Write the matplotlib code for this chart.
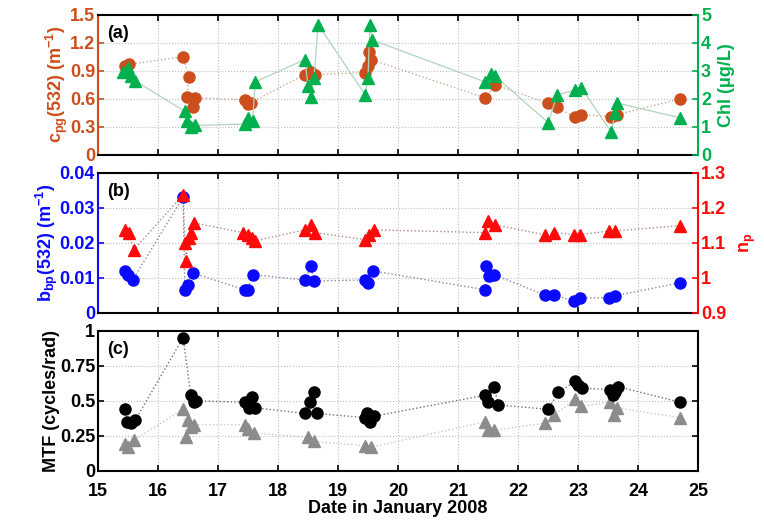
import numpy as np
import matplotlib
matplotlib.use("Agg")
import matplotlib.pyplot as plt

plt.rcParams['font.family'] = ['Liberation Sans', 'DejaVu Sans']
plt.rcParams['font.weight'] = 'bold'
plt.rcParams['axes.labelweight'] = 'bold'
plt.rcParams['font.size'] = 13
plt.rcParams['mathtext.fontset'] = 'custom'
plt.rcParams['mathtext.rm'] = 'Liberation Sans:bold'
plt.rcParams['mathtext.bf'] = 'Liberation Sans:bold'
plt.rcParams['mathtext.it'] = 'Liberation Sans:bold'
plt.rcParams['mathtext.default'] = 'bf'

# ---- panel (a) ----
cpg_day = [15.45, 15.52, 16.42, 16.52, 16.48, 16.58, 16.62, 17.45, 17.5, 17.55,
           18.45, 18.55, 18.62, 19.45, 19.5, 19.52, 19.55, 21.45, 21.62, 22.5,
           22.65, 22.95, 23.05, 23.55, 23.65, 24.7]
cpg = [0.95, 0.97, 1.05, 0.83, 0.62, 0.51, 0.61, 0.59, 0.54, 0.56,
       0.86, 0.89, 0.86, 0.88, 0.95, 1.10, 1.02, 0.61, 0.75, 0.55,
       0.51, 0.40, 0.43, 0.41, 0.43, 0.60]

chl_day = [15.42, 15.5, 15.55, 15.62, 16.45, 16.48, 16.55, 16.62, 17.45, 17.5,
           17.58, 17.62, 18.45, 18.5, 18.55, 18.6, 18.67, 19.45, 19.5, 19.53,
           19.57, 21.45, 21.55, 21.62, 22.5, 22.65, 22.95, 23.05, 23.55, 23.62,
           23.65, 24.7]
chl = [2.95, 3.1, 2.8, 2.65, 1.55, 1.2, 1.0, 1.05, 1.1, 1.3,
       1.2, 2.6, 3.4, 2.45, 2.05, 2.75, 4.65, 2.15, 2.75, 4.65,
       4.1, 2.6, 2.9, 2.8, 1.15, 2.15, 2.3, 2.4, 0.82, 1.5,
       1.85, 1.32]

# ---- panel (b) ----
bbp_day = [15.45, 15.5, 15.58, 16.42, 16.45, 16.5, 16.58, 17.45, 17.5, 17.58,
           18.45, 18.55, 18.6, 19.45, 19.5, 19.58, 21.45, 21.47, 21.52, 21.6,
           22.45, 22.6, 22.93, 23.03, 23.52, 23.62, 24.7]
bbp = [0.0120, 0.0109, 0.0094, 0.033, 0.0066, 0.0080, 0.0114, 0.0066, 0.0066, 0.0109,
       0.0094, 0.0134, 0.0091, 0.0094, 0.0086, 0.0120, 0.0066, 0.0134, 0.0106, 0.0109,
       0.0051, 0.0051, 0.0034, 0.0043, 0.0043, 0.0049, 0.0086]

np_day = [15.45, 15.52, 15.6, 16.42, 16.45, 16.47, 16.52, 16.55, 16.6, 17.42,
          17.5, 17.57, 17.62, 18.45, 18.55, 18.62, 19.45, 19.52, 19.6, 21.45,
          21.5, 21.62, 22.45, 22.6, 22.93, 23.03, 23.52, 23.62, 24.7]
n_p = [1.137, 1.129, 1.080, 1.237, 1.100, 1.049, 1.114, 1.129, 1.157, 1.129,
       1.123, 1.114, 1.106, 1.137, 1.151, 1.129, 1.109, 1.123, 1.137, 1.129,
       1.163, 1.151, 1.123, 1.129, 1.123, 1.123, 1.134, 1.134, 1.149]

# ---- panel (c) ----
mtf1_day = [15.45, 15.48, 15.55, 15.62, 16.42, 16.55, 16.6, 16.63, 17.45, 17.52,
            17.57, 17.62, 18.45, 18.53, 18.6, 18.65, 19.45, 19.48, 19.53, 19.6,
            21.45, 21.5, 21.6, 21.67, 22.5, 22.67, 22.95, 23.0, 23.07, 23.53,
            23.58, 23.62, 23.67, 24.7]
mtf1 = [0.44, 0.35, 0.34, 0.36, 0.95, 0.54, 0.49, 0.50, 0.49, 0.45,
        0.53, 0.45, 0.41, 0.49, 0.56, 0.41, 0.38, 0.41, 0.35, 0.39,
        0.54, 0.49, 0.60, 0.47, 0.44, 0.56, 0.64, 0.61, 0.59, 0.58,
        0.54, 0.56, 0.60, 0.49]

mtf2_day = [15.45, 15.5, 15.6, 16.42, 16.47, 16.5, 16.55, 16.6, 17.45, 17.5,
            17.6, 18.5, 18.6, 19.45, 19.55, 21.45, 21.5, 21.6, 22.45, 22.6,
            22.95, 23.05, 23.53, 23.6, 23.65, 24.7]
mtf2 = [0.19, 0.17, 0.22, 0.44, 0.24, 0.36, 0.31, 0.33, 0.33, 0.30,
        0.27, 0.24, 0.21, 0.18, 0.17, 0.35, 0.29, 0.29, 0.34, 0.40,
        0.51, 0.46, 0.49, 0.40, 0.45, 0.38]

c_cpg = '#cc4e1c'
c_chl = '#00b04f'
c_bbp = '#0a0aff'
c_np = '#ff0a0a'

fig = plt.figure(figsize=(7.64, 5.25), dpi=100)
L, W, H = 0.128, 0.786, 0.267
ax_a = fig.add_axes([L, 0.705, W, H])
ax_b = fig.add_axes([L, 0.404, W, H])
ax_c = fig.add_axes([L, 0.103, W, H])


def style(ax, lcol):
    ax.set_xlim(15, 25)
    ax.set_xticks(range(15, 26))
    ax.grid(True, ls=':', color='#bdbdbd', lw=0.8)
    ax.tick_params(direction='in', length=4, width=1.2, top=True)
    ax.tick_params(axis='y', colors=lcol, labelcolor=lcol, pad=2)
    ax.tick_params(axis='x', colors='black', pad=9)
    for s in ['top', 'bottom']:
        ax.spines[s].set_linewidth(1.5)
    ax.spines['left'].set_color(lcol)
    ax.spines['left'].set_linewidth(1.5)


def style_twin(tw, rcol):
    tw.spines['left'].set_visible(False)
    tw.spines['top'].set_visible(False)
    tw.spines['bottom'].set_visible(False)
    tw.spines['right'].set_color(rcol)
    tw.spines['right'].set_linewidth(1.5)
    tw.tick_params(direction='in', length=4, width=1.2, colors=rcol, labelcolor=rcol, pad=2)


# (a)
style(ax_a, c_cpg)
ax_a.spines['right'].set_visible(False)
ax_a.plot(cpg_day, cpg, ':', color='#c8a898', lw=1)
ax_a.plot(cpg_day, cpg, 'o', color=c_cpg, ms=8, mec=c_cpg)
ax_a.set_ylim(0, 1.5)
ax_a.set_yticks([0, 0.3, 0.6, 0.9, 1.2, 1.5])
ax_a.set_yticklabels(['0', '0.3', '0.6', '0.9', '1.2', '1.5'])
ax_a.set_xticklabels([])
ax_a.set_ylabel('c$_{pg}$(532) (m$^{-1}$)', color=c_cpg, labelpad=0)
ax_a.text(0.015, 0.93, '(a)', transform=ax_a.transAxes, va='top', fontsize=13)
tw_a = ax_a.twinx()
style_twin(tw_a, c_chl)
tw_a.plot(chl_day, chl, '-', color='#b0d4bc', lw=0.9)
tw_a.plot(chl_day, chl, '^', color=c_chl, ms=9, mec=c_chl)
tw_a.set_ylim(0, 5)
tw_a.set_yticks(range(0, 6))
tw_a.set_ylabel('Chl (\u03bcg/L)', color=c_chl, labelpad=5)

# (b)
style(ax_b, c_bbp)
ax_b.spines['right'].set_visible(False)
ax_b.plot(bbp_day, bbp, ':', color='#8888a8', lw=1)
ax_b.plot(bbp_day, bbp, 'o', color=c_bbp, ms=8, mec=c_bbp)
ax_b.set_ylim(0, 0.04)
ax_b.set_yticks([0, 0.01, 0.02, 0.03, 0.04])
ax_b.set_yticklabels(['0', '0.01', '0.02', '0.03', '0.04'])
ax_b.set_xticklabels([])
ax_b.set_ylabel('b$_{bp}$(532) (m$^{-1}$)', color=c_bbp, labelpad=0)
ax_b.text(0.015, 0.93, '(b)', transform=ax_b.transAxes, va='top', fontsize=13)
tw_b = ax_b.twinx()
style_twin(tw_b, c_np)
tw_b.plot(np_day, n_p, ':', color='#b08888', lw=1)
tw_b.plot(np_day, n_p, '^', color=c_np, ms=9, mec=c_np)
tw_b.set_ylim(0.9, 1.3)
tw_b.set_yticks([0.9, 1.0, 1.1, 1.2, 1.3])
tw_b.set_yticklabels(['0.9', '1', '1.1', '1.2', '1.3'])
tw_b.set_ylabel('n$_p$', color=c_np, labelpad=8)

# (c)
style(ax_c, 'black')
ax_c.spines['right'].set_linewidth(1.5)
ax_c.tick_params(right=True)
ax_c.plot(mtf2_day, mtf2, ':', color='#c8c8c8', lw=1)
ax_c.plot(mtf1_day, mtf1, ':', color='#707070', lw=1)
ax_c.plot(mtf2_day, mtf2, '^', color='#8c8c8c', ms=9, mec='#8c8c8c')
ax_c.plot(mtf1_day, mtf1, 'o', color='black', ms=8)
ax_c.set_ylim(0, 1)
ax_c.set_yticks([0, 0.25, 0.5, 0.75, 1])
ax_c.set_yticklabels(['0', '0.25', '0.5', '0.75', '1'])
ax_c.set_ylabel('MTF (cycles/rad)', labelpad=0)
ax_c.set_xlabel('Date in January 2008', labelpad=0)
ax_c.text(0.015, 0.93, '(c)', transform=ax_c.transAxes, va='top', fontsize=13)

fig.savefig('out.png', dpi=100)
